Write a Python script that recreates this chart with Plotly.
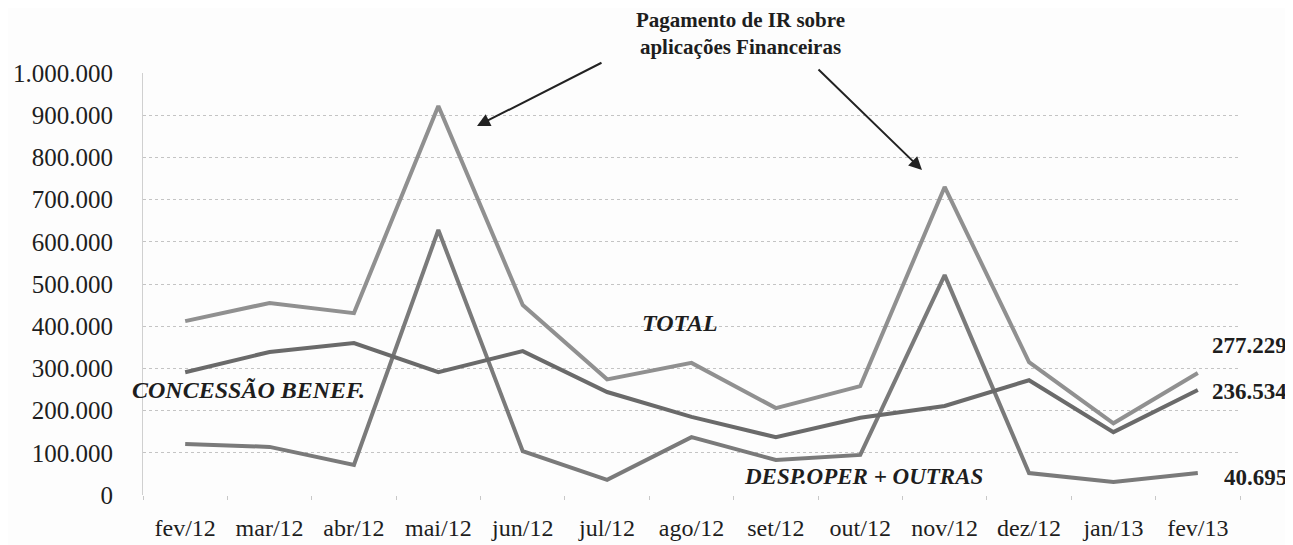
import plotly.graph_objects as go

months = ["fev/12", "mar/12", "abr/12", "mai/12", "jun/12", "jul/12", "ago/12",
          "set/12", "out/12", "nov/12", "dez/12", "jan/13", "fev/13"]
total = [412000, 455000, 431000, 922000, 450000, 274000, 313000, 206000, 258000, 730000, 315000, 170000, 289000]
concessao = [291000, 339000, 360000, 291000, 341000, 244000, 185000, 137000, 183000, 211000, 272000, 149000, 249000]
desp_oper = [121000, 114000, 71000, 628000, 104000, 36000, 137000, 83000, 95000, 521000, 52000, 31000, 52000]
y_ticks = [0, 100000, 200000, 300000, 400000, 500000, 600000, 700000, 800000, 900000, 1000000]
y_tick_text = ["0", "100.000", "200.000", "300.000", "400.000", "500.000", "600.000",
               "700.000", "800.000", "900.000", "1.000.000"]
end_labels = ["277.229", "236.534", "40.695"]

SERIF = "Liberation Serif"
# reference-pixel frame of the plot area
L, R, T, B = 143, 1240, 73, 495
OFF = 8  # default page body margin
W, H = 1293 - OFF, 545 - OFF


def px(xp):
    return (xp - L) / (R - L)


def py(yp):
    return (B - yp) / (B - T)


fig = go.Figure()
fig.add_trace(go.Scatter(x=months, y=total, mode="lines", name="TOTAL",
                         line=dict(color="#909090", width=4), cliponaxis=False))
fig.add_trace(go.Scatter(x=months, y=desp_oper, mode="lines", name="DESP.OPER + OUTRAS",
                         line=dict(color="#7a7a7a", width=4), cliponaxis=False))
fig.add_trace(go.Scatter(x=months, y=concessao, mode="lines", name="CONCESSÃO BENEF.",
                         line=dict(color="#6a6a6a", width=4), cliponaxis=False))


def label(text, xp, yp, size, xanchor="center"):
    return dict(text=text, x=px(xp), y=py(yp), xref="x domain", yref="y domain",
                showarrow=False, font=dict(size=size), align="center",
                xanchor=xanchor, yanchor="middle")


annotations = [
    label("<b>Pagamento de IR sobre<br>aplicações Financeiras</b>", 740, 34, 21),
    label("<b><i>TOTAL</i></b>", 680, 323, 24),
    label("<b><i>CONCESSÃO BENEF.</i></b>", 248, 390, 24),
    label("<b><i>DESP.OPER + OUTRAS</i></b>", 863, 476, 23),
]

for txt, yp in zip(end_labels, [345, 391, 477]):
    annotations.append(label("<b>" + txt + "</b>", 1289, yp, 23, xanchor="right"))

for (x0, y0, x1, y1) in [(603, 62, 477, 126), (817, 68, 922, 170)]:
    annotations.append(dict(x=px(x1), y=py(y1), ax=px(x0), ay=py(y0),
                            xref="x domain", yref="y domain",
                            axref="x domain", ayref="y domain",
                            showarrow=True, arrowhead=2, arrowsize=1.3, arrowwidth=2,
                            arrowcolor="#222222", text=""))

fig.update_layout(
    width=W, height=H,
    margin=dict(l=L - OFF, r=W - (R - OFF), t=T - OFF, b=H - (B - OFF), pad=0),
    paper_bgcolor="#fdfdfd", plot_bgcolor="#fdfdfd",
    showlegend=False,
    font=dict(family=SERIF, color="#1e1e1e", size=23),
    annotations=annotations,
    xaxis=dict(range=[-0.5, len(months) - 0.5], showgrid=False, showline=False,
               ticks="outside", tickson="boundaries", ticklen=4, tickcolor="#c8c8c8",
               tickfont=dict(size=24, family=SERIF, color="#1e1e1e"),
               ticklabelstandoff=16, zeroline=False, automargin=False),
    yaxis=dict(range=[0, 1000000], tickvals=y_ticks, ticktext=y_tick_text,
               tickfont=dict(size=25, family=SERIF, color="#1e1e1e"), showgrid=True,
               gridcolor="#c4c4c4", griddash="dot", gridwidth=1, zeroline=False,
               showline=True, linecolor="#d0d0d0", linewidth=1, ticklabelstandoff=24,
               automargin=False),
)
fig.write_html("out.html")
